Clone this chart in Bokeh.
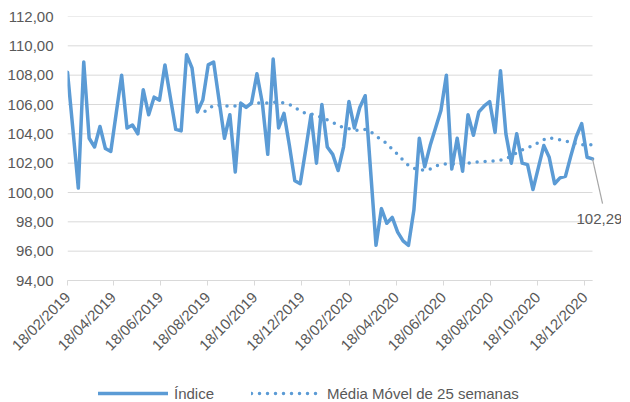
import pandas as pd
from bokeh.plotting import figure
from bokeh.layouts import column
from bokeh.models import (FixedTicker, DatetimeTickFormatter, Legend, LegendItem,
                          Label, ColumnDataSource)
from bokeh.embed import file_html
from bokeh.resources import INLINE
from math import pi

# ---------------- data ----------------
start_date = "2019-02-18"
indice = [
    108.2, 104.3, 100.3, 108.9, 103.7, 103.1, 104.5, 103.0, 102.8, 105.4,
    108.0, 104.4, 104.6, 104.0, 107.0, 105.3, 106.5, 106.3, 108.7, 106.5,
    104.3, 104.2, 109.4, 108.5, 105.5, 106.3, 108.7, 108.9, 106.3, 103.7,
    105.3, 101.4, 106.1, 105.8, 106.1, 108.1, 106.1, 102.6, 109.1, 104.4,
    105.4, 103.2, 100.8, 100.6, 102.9, 105.3, 102.0, 106.0, 103.1, 102.6,
    101.5, 103.1, 106.2, 104.4, 105.8, 106.6, 101.5, 96.4, 98.9, 97.9,
    98.3, 97.3, 96.7, 96.4, 98.8, 103.7, 101.75, 103.2, 104.4, 105.6,
    108.0, 101.6, 103.7, 101.45, 105.3, 103.9, 105.5, 105.9, 106.2, 104.1,
    108.3, 104.0, 102.0, 104.0, 102.0, 101.9, 100.2, 101.7, 103.2, 102.4,
    100.6, 101.0, 101.1, 102.5, 103.8, 104.7, 102.4, 102.29,
]
media_movel = [
    105.5, 105.45, 105.65, 105.95, 105.95, 105.9, 105.9, 105.9, 105.95, 106.0,
    106.05, 106.1, 106.1, 106.1, 106.15, 106.15, 106.1, 106.0, 105.8, 105.55,
    105.4, 105.35, 105.25, 105.1, 104.95, 104.8, 104.55, 104.45, 104.35, 104.25,
    104.25, 104.3, 104.15, 103.85, 103.6, 103.35, 102.95, 102.6, 102.2, 101.85,
    101.65, 101.6, 101.5, 101.6, 101.8, 101.9, 101.95, 101.95, 101.95, 101.95,
    102.0, 102.05, 102.1, 102.1, 102.15, 102.15, 102.2, 102.3, 102.5, 102.7,
    102.9, 103.05, 103.2, 103.4, 103.6, 103.75, 103.65, 103.6, 103.5, 103.45,
    103.3, 103.25, 103.25, 103.25,
]
x_tick_labels = ["18/02/2019", "18/04/2019", "18/06/2019", "18/08/2019",
                 "18/10/2019", "18/12/2019", "18/02/2020", "18/04/2020",
                 "18/06/2020", "18/08/2020", "18/10/2020", "18/12/2020"]
y_ticks = [94, 96, 98, 100, 102, 104, 106, 108, 110, 112]
y_tick_labels = ["94,00", "96,00", "98,00", "100,00", "102,00", "104,00",
                 "106,00", "108,00", "110,00", "112,00"]
series_names = ["Índice", "Média Móvel de 25 semanas"]

# ---------------- build ----------------
dates = pd.date_range(start_date, periods=len(indice), freq="7D")
ma_dates = dates[len(dates) - len(media_movel):]

src1 = ColumnDataSource(dict(x=dates, y=indice))
src2 = ColumnDataSource(dict(x=ma_dates, y=media_movel))

BLUE = "#5B9BD5"
GRID = "#D9D9D9"
TXT = "#595959"
FONT = "Liberation Sans"
LEFT = 67

DATA_W = 525      # pixels covered by the data span
FRAME_W = 554     # frame extended to the right to host the value label
span = dates[-1] - dates[0]
x_end = dates[0] + span * (FRAME_W / DATA_W)

p = figure(frame_width=FRAME_W, frame_height=264, x_axis_type="datetime",
           output_backend="svg", toolbar_location=None,
           x_range=(dates[0], x_end), y_range=(94, 112),
           min_border_left=LEFT, min_border_right=0, min_border_top=16,
           min_border_bottom=0)
p.outline_line_color = None
p.background_fill_color = "white"

# horizontal gridlines limited to the data span
p.segment(x0=[dates[0]] * len(y_ticks), y0=y_ticks,
          x1=[dates[-1]] * len(y_ticks), y1=y_ticks,
          line_color=GRID, line_width=1, level="underlay")

line_style = dict(line_color=BLUE, line_width=3.5, line_cap="round")
r1 = p.line("x", "y", source=src1, line_join="round", **line_style)
r2 = p.line("x", "y", source=src2, line_dash="0 8", **line_style)

# axes
tick_dates = pd.to_datetime(x_tick_labels, format="%d/%m/%Y")
p.xaxis.ticker = FixedTicker(ticks=[d.value / 1e6 for d in tick_dates])
fmt = "%d/%m/%Y"
p.xaxis.formatter = DatetimeTickFormatter(
    milliseconds=fmt, seconds=fmt, minsec=fmt, minutes=fmt, hourmin=fmt,
    hours=fmt, days=fmt, months=fmt, years=fmt)
p.xaxis.bounds = (dates[0], dates[-1])
p.xaxis.major_label_orientation = pi / 4
p.xaxis.axis_line_color = GRID
p.xaxis.major_tick_line_color = GRID
p.xaxis.major_tick_out = 5
p.xaxis.major_tick_in = 0
p.xaxis.minor_tick_line_color = None
p.xaxis.major_label_text_font = FONT
p.xaxis.major_label_text_font_size = "15px"
p.xaxis.major_label_text_color = TXT
p.xaxis.major_label_standoff = 9

p.yaxis.ticker = FixedTicker(ticks=y_ticks)
p.yaxis.major_label_overrides = dict(zip(y_ticks, y_tick_labels))
p.yaxis.axis_line_color = None
p.yaxis.major_tick_line_color = None
p.yaxis.minor_tick_line_color = None
p.yaxis.major_tick_out = 0
p.yaxis.major_tick_in = 0
p.yaxis.major_label_text_font = FONT
p.yaxis.major_label_text_font_size = "15px"
p.yaxis.major_label_text_color = TXT
p.yaxis.major_label_standoff = 14

p.xgrid.grid_line_color = None
p.ygrid.grid_line_color = None

# annotation of last value
last_x = dates[-1]
last_y = indice[-1]
end_x = last_x + pd.Timedelta(days=13)
end_y = last_y - 3.05
p.segment(x0=[last_x], y0=[last_y], x1=[end_x], y1=[end_y],
          line_color="#A6A6A6", line_width=1.2)
p.add_layout(Label(x=last_x + pd.Timedelta(days=9), y=last_y - 4.1,
                   text=f"{last_y:.2f}".replace(".", ","),
                   text_align="center", text_baseline="middle",
                   text_font=FONT, text_font_size="15px", text_color=TXT))

# legend in its own strip below the chart (same series, out of its view range)
pl = figure(width=LEFT + FRAME_W, height=41, output_backend="svg",
            toolbar_location=None, x_axis_location=None, y_axis_location=None,
            min_border=0, x_range=(0, 1), y_range=(0, 1))
pl.outline_line_color = None
pl.grid.visible = False
l1 = pl.line("x", "y", source=src1, line_join="round", **line_style)
l2 = pl.line("x", "y", source=src2, line_dash="0 8", **line_style)
legend = Legend(items=[LegendItem(label=series_names[0], renderers=[l1]),
                       LegendItem(label=series_names[1], renderers=[l2])],
                orientation="horizontal", location=(31, 0),
                label_text_font=FONT, label_text_font_size="15px",
                label_text_color=TXT, glyph_width=70, glyph_height=20,
                label_standoff=6, spacing=37, border_line_color=None,
                background_fill_alpha=0, padding=0, margin=0)
pl.add_layout(legend, "center")

layout = column(p, pl, spacing=0)
open("out.html", "w").write(file_html(layout, INLINE))
